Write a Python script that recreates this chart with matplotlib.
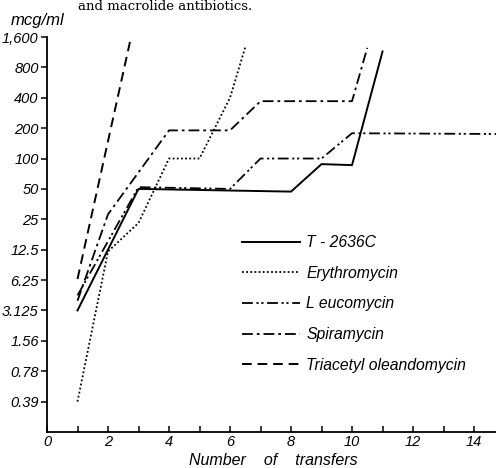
import matplotlib
matplotlib.use("Agg")
import matplotlib.pyplot as plt

# values (mcg/ml vs. number of transfers)
t2636c_x = [1, 3, 8, 9, 10, 11]
t2636c_y = [3.125, 50, 47, 88, 86, 1150]

ery_x = [1, 2, 3, 4, 5, 6, 6.5]
ery_y = [0.39, 12, 23, 100, 100, 400, 1270]

leuco_x = [1, 3, 6, 7, 9, 10, 14.8]
leuco_y = [4.4, 52, 50, 100, 100, 178, 175]

spira_x = [1, 2, 4, 6, 7, 10, 10.5]
spira_y = [3.9, 28, 190, 190, 370, 370, 1250]

tao_x = [1, 2.72]
tao_y = [6.4, 1430]

ytick_vals = [1600, 800, 400, 200, 100, 50, 25, 12.5, 6.25, 3.125, 1.56, 0.78, 0.39]
ytick_labels = ['1,600', '800', '400', '200', '100', '50', '25', '12.5', '6.25',
                '3.125', '1.56', '0.78', '0.39']
xtick_major = [0, 2, 4, 6, 8, 10, 12, 14]
xtick_minor = [1, 3, 5, 7, 9, 11, 13]

plt.rcParams['font.family'] = ['Liberation Sans', 'DejaVu Sans']

fig = plt.figure(figsize=(4.96, 4.68), dpi=100)
ax = fig.add_axes([47/496, 1 - 432/468, 1 - 47/496, (432 - 37)/468])

ax.plot(t2636c_x, t2636c_y, color='black', lw=1.4, ls='-', label='T - 2636C')
ax.plot(ery_x, ery_y, color='black', lw=1.3, ls=(0, (1, 1.3)), label='Erythromycin')
ax.plot(leuco_x, leuco_y, color='black', lw=1.3, ls=(0, (6, 2, 1.2, 1.5, 1.2, 2)),
        label='L eucomycin')
ax.plot(spira_x, spira_y, color='black', lw=1.3, ls=(0, (6, 2.2, 1.5, 2.2)),
        label='Spiramycin')
ax.plot(tao_x, tao_y, color='black', lw=1.4, ls=(0, (5, 3)),
        label='Triacetyl oleandomycin')

ax.set_yscale('log', base=2)
ax.set_ylim(0.195, 1600)
ax.set_xlim(0, 14.72)
ax.set_yticks(ytick_vals)
ax.set_yticklabels(ytick_labels)
ax.yaxis.set_minor_locator(matplotlib.ticker.NullLocator())
ax.set_xticks(xtick_major)
ax.set_xticklabels([str(v) for v in xtick_major])
ax.set_xticks(xtick_minor, minor=True)

for s in ['top', 'right']:
    ax.spines[s].set_visible(False)
for s in ['left', 'bottom']:
    ax.spines[s].set_linewidth(1.3)

ax.tick_params(axis='y', direction='out', length=4, width=1.1, pad=2, labelsize=10.5)
ax.tick_params(axis='x', which='both', direction='in', length=4, width=1.1, pad=2, labelsize=10.5)
for lab in ax.get_xticklabels() + ax.get_yticklabels():
    lab.set_fontstyle('italic')

fig.text(11/496, 1 - 25/468, 'mcg/ml', fontsize=12, style='italic', va='baseline')
fig.text(273/496, 1 - 465/468, 'Number    of    transfers', fontsize=11.5, style='italic',
         ha='center', va='baseline')
# caption line at the top edge of the scan
fig.text(78/496, 1 - 10/468, 'and macrolide antibiotics.', fontsize=9.5,
         family='DejaVu Serif', va='baseline')

leg = ax.legend(loc='upper left', bbox_to_anchor=(242/496, 1 - 235/468),
                bbox_transform=fig.transFigure, frameon=False, fontsize=11.3,
                handlelength=3.7, handletextpad=0.4, labelspacing=1.0,
                borderpad=0, borderaxespad=0)
for t in leg.get_texts():
    t.set_fontstyle('italic')

fig.savefig('out.png', dpi=100)
